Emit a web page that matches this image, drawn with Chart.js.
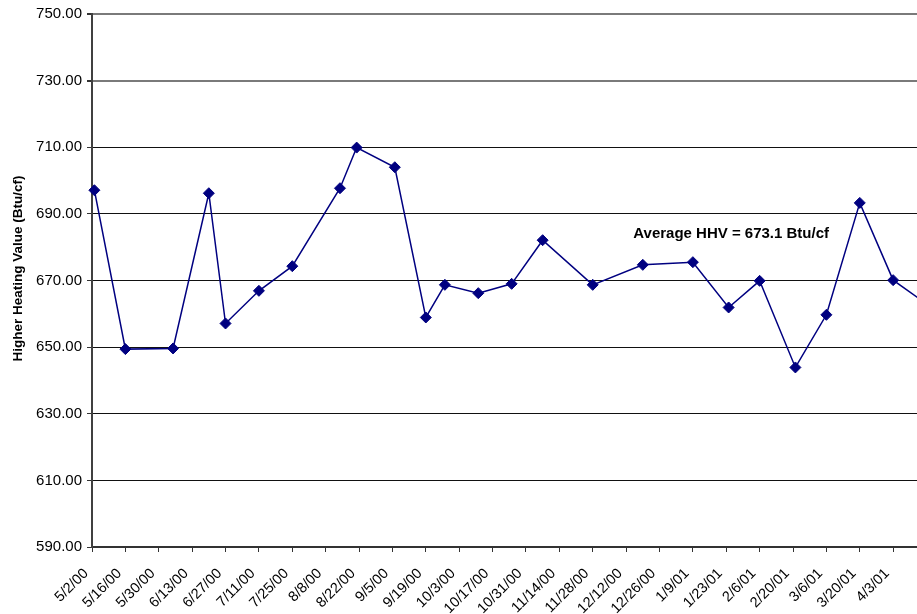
<!DOCTYPE html>
<html>
<head>
<meta charset="utf-8">
<title>Higher Heating Value</title>
<script src="https://cdn.jsdelivr.net/npm/chart.js@4.4.1/dist/chart.umd.min.js"></script>
<style>
  html, body { margin: 0; padding: 0; background: #fff; }
  #wrap { width: 917px; height: 614px; position: relative; }
</style>
</head>
<body>
<div id="wrap"><canvas id="canvas-hhv"></canvas></div>
<script>
// sample dates (m/d/yy) and measured higher heating value, Btu/cf
const sampleDates = [
  '5/3/00', '5/16/00', '6/5/00', '6/20/00', '6/27/00', '7/11/00', '7/25/00',
  '8/14/00', '8/21/00', '9/6/00', '9/19/00', '9/27/00', '10/11/00', '10/25/00',
  '11/7/00', '11/28/00', '12/19/00', '1/9/01', '1/24/01', '2/6/01', '2/21/01',
  '3/6/01', '3/20/01', '4/3/01', '4/17/01',
];
const hhvValues = [
  697.1, 649.4, 649.6, 696.2, 657.1, 666.9, 674.3,
  697.7, 709.9, 704.0, 658.9, 668.7, 666.2, 669.0,
  682.1, 668.7, 674.7, 675.5, 661.9, 669.9, 643.9,
  659.7, 693.3, 670.1, 663.0,
];
const tickLabels = [
  '5/2/00', '5/16/00', '5/30/00', '6/13/00', '6/27/00', '7/11/00', '7/25/00',
  '8/8/00', '8/22/00', '9/5/00', '9/19/00', '10/3/00', '10/17/00', '10/31/00',
  '11/14/00', '11/28/00', '12/12/00', '12/26/00', '1/9/01', '1/23/01', '2/6/01',
  '2/20/01', '3/6/01', '3/20/01', '4/3/01',
];
const averageLabel = 'Average HHV = 673.1 Btu/cf';
const yTitle = 'Higher Heating Value (Btu/cf)';

const DAY = 86400000;
const origin = Date.UTC(2000, 4, 2);

function dayOf(s) {
  const [m, d, y] = s.split('/').map(Number);
  return Math.round((Date.UTC(2000 + y, m - 1, d) - origin) / DAY);
}

const points = sampleDates.map((s, i) => ({ x: dayOf(s), y: hhvValues[i] }));

const FONT = '"Liberation Sans", Arial, Helvetica, sans-serif';

// average note inside the plot, and the vertical axis title
const labels = {
  id: 'labels',
  afterDatasetsDraw(chart) {
    const ctx = chart.ctx;
    const area = chart.chartArea;
    const x = chart.scales.x.getPixelForValue(227);
    const y = chart.scales.y.getPixelForValue(684);
    ctx.save();
    ctx.font = 'bold 15px ' + FONT;
    ctx.fillStyle = '#000';
    ctx.textAlign = 'left';
    ctx.textBaseline = 'middle';
    ctx.fillText(averageLabel, x, y);

    ctx.translate(18, (area.top + area.bottom) / 2 - 12);
    ctx.rotate(-Math.PI / 2);
    ctx.font = 'bold 13.5px ' + FONT;
    ctx.textAlign = 'center';
    ctx.fillText(yTitle, 0, 0);
    ctx.restore();
  },
};

function drawHhv() {
  const hhv = document.getElementById('canvas-hhv').getContext('2d');
  new Chart(hhv, {
    type: 'line',
    data: {
      datasets: [
        {
          label: 'HHV',
          data: points,
          borderColor: '#000080',
          backgroundColor: '#000080',
          borderWidth: 1.5,
          pointStyle: 'rectRot',
          pointRadius: 5.5,
          pointBorderWidth: 1,
          pointHoverRadius: 5.5,
          tension: 0,
          clip: { left: 10, top: 10, bottom: 10, right: 0 },
        },
      ],
    },
    options: {
      responsive: true,
      maintainAspectRatio: false,
      animation: false,
      events: [],
      layout: { autoPadding: false, padding: { top: 11, right: 0, left: 0, bottom: 0 } },
      plugins: {
        legend: { display: false },
        tooltip: { enabled: false },
      },
      scales: {
        x: {
          type: 'linear',
          min: 0,
          max: 346,
          afterBuildTicks(scale) {
            scale.ticks = tickLabels.map((_, i) => ({ value: i * 14 }));
          },
          afterFit(scale) {
            scale.height = 67;
            scale.paddingRight = 0;
            scale.paddingLeft = 0;
          },
          ticks: {
            autoSkip: false,
            minRotation: 45,
            maxRotation: 45,
            padding: 13,
            labelOffset: -6,
            color: '#000',
            font: { family: FONT, size: 14.5 },
            callback: (v, i) => tickLabels[i],
          },
          grid: {
            drawOnChartArea: false,
            drawTicks: true,
            tickLength: 5,
            tickColor: '#333',
            tickWidth: 1,
          },
          border: { color: '#333', width: 2 },
        },
        y: {
          min: 590,
          max: 750,
          afterFit(scale) {
            scale.width = 92;
          },
          ticks: {
            stepSize: 20,
            padding: 5,
            color: '#000',
            font: { family: FONT, size: 15 },
            callback: (v) => v.toFixed(2),
          },
          grid: {
            color: (c) => (c.tick && c.tick.value >= 730 ? '#7a7a7a' : '#111'),
            lineWidth: (c) => (c.tick && c.tick.value >= 730 ? 2 : 1),
            tickLength: 5,
            tickColor: '#333',
          },
          border: { color: '#404040', width: 2 },
        },
      },
    },
    plugins: [labels],
  });
}

drawHhv();
</script>
</body>
</html>
